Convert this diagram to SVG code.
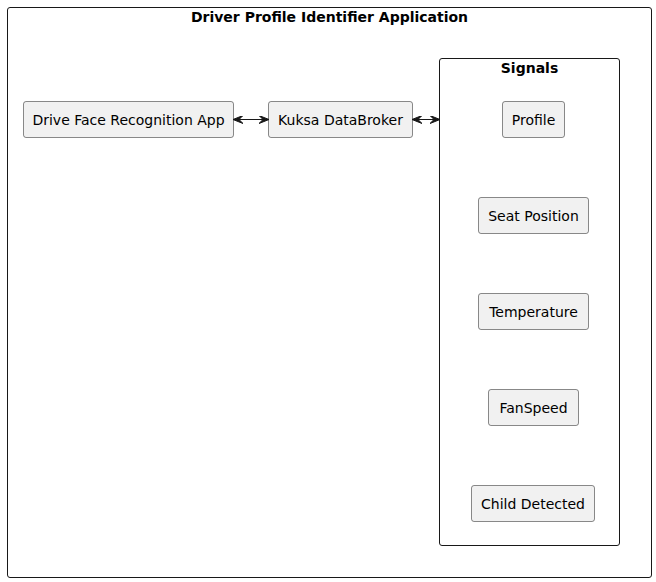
<svg xmlns="http://www.w3.org/2000/svg" width="656" height="582" viewBox="0 0 656 582">
<defs>
<style>
.frame{fill:none;stroke:#181818;stroke-width:1}
.node rect{fill:#F1F1F1;stroke:#181818;stroke-width:0.5}
.lbl{font-family:"DejaVu Sans",sans-serif;font-size:14px;fill:#000;text-anchor:middle}
.ttl{font-family:"DejaVu Sans",sans-serif;font-size:14px;font-weight:bold;fill:#000;text-anchor:middle}
.edge{stroke:#181818;stroke-width:1;fill:none}
.ah{fill:#181818;stroke:#181818;stroke-width:1}
</style>
<marker id="arr" viewBox="0 0 10 8" refX="9" refY="4" markerWidth="10" markerHeight="8" markerUnits="userSpaceOnUse" orient="auto-start-reverse">
<path d="M0,0 L10,4 L0,8 L4,4 Z" class="ah"/>
</marker>
</defs>
<rect fill="#FFFFFF" x="0" y="0" width="656" height="582"/>
<g id="app-frame">
<rect class="frame" x="7.5" y="7.5" width="644" height="570" rx="2.5"/>
<text class="ttl" x="329.5" y="22">Driver Profile Identifier Application</text>
</g>
<g id="signals-frame">
<rect class="frame" x="439.5" y="58.5" width="180" height="487" rx="2.5"/>
<text class="ttl" x="529.5" y="73">Signals</text>
</g>
<g id="face-app" class="node">
<rect x="23.5" y="101.5" width="210" height="36" rx="2.5"/>
<text class="lbl" x="128.5" y="124.5">Drive Face Recognition App</text>
</g>
<g id="kuksa" class="node">
<rect x="268.5" y="101.5" width="144" height="36" rx="2.5"/>
<text class="lbl" x="340.5" y="124.5">Kuksa DataBroker</text>
</g>
<g id="profile" class="node">
<rect x="502.5" y="101.5" width="62" height="36" rx="2.5"/>
<text class="lbl" x="533.5" y="124.5">Profile</text>
</g>
<g id="seat" class="node">
<rect x="478.5" y="197.5" width="110" height="36" rx="2.5"/>
<text class="lbl" x="533.5" y="220.5">Seat Position</text>
</g>
<g id="temperature" class="node">
<rect x="478.5" y="293.5" width="110" height="36" rx="2.5"/>
<text class="lbl" x="533.5" y="316.5">Temperature</text>
</g>
<g id="fanspeed" class="node">
<rect x="488.5" y="389.5" width="90" height="36" rx="2.5"/>
<text class="lbl" x="533.5" y="412.5">FanSpeed</text>
</g>
<g id="child" class="node">
<rect x="471.5" y="485.5" width="123" height="36" rx="2.5"/>
<text class="lbl" x="533" y="508.5">Child Detected</text>
</g>
<g id="connectors">
<line class="edge" x1="234" y1="119.5" x2="268" y2="119.5" marker-start="url(#arr)" marker-end="url(#arr)"/>
<line class="edge" x1="413" y1="119.5" x2="439" y2="119.5" marker-start="url(#arr)" marker-end="url(#arr)"/>
</g>
</svg>
